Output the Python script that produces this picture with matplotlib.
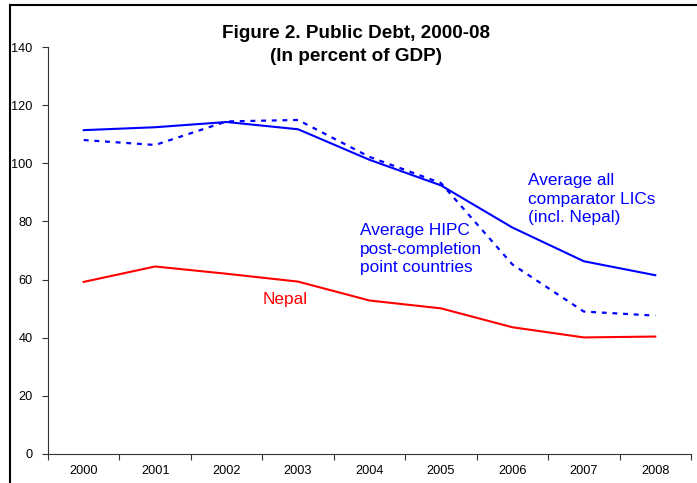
import matplotlib.pyplot as plt
from matplotlib.patches import Rectangle

plt.rcParams["font.family"] = ["Liberation Sans", "DejaVu Sans"]

years = ["2000", "2001", "2002", "2003", "2004", "2005", "2006", "2007", "2008"]
all_lics = [111.4, 112.4, 114.2, 111.7, 101.2, 92.4, 77.9, 66.3, 61.5]
hipc_post = [108.0, 106.3, 114.4, 114.9, 102.2, 93.2, 65.2, 49.0, 47.6]
nepal = [59.2, 64.5, 62.0, 59.3, 52.8, 50.1, 43.6, 40.1, 40.4]

W, H = 697, 483
fig = plt.figure(figsize=(W / 100, H / 100), dpi=100)
ax = fig.add_axes([48 / W, 1 - 454 / H, (691 - 48) / W, (454 - 47) / H])

x = list(range(len(years)))
ax.plot(x, all_lics, color="#0000FF", lw=1.5, solid_joinstyle="miter")
ax.plot(x, hipc_post, color="#0000FF", lw=1.6, linestyle=(0, (2.2, 2.6)))
ax.plot(x, nepal, color="#FF0000", lw=1.5)

ax.set_xlim(-0.5, 8.5)
ax.set_ylim(0, 140)
ax.set_yticks(range(0, 141, 20))
ax.set_xticks([i - 0.5 for i in range(len(years) + 1)])
ax.set_xticklabels([])
ax.set_xticks(x, minor=True)
ax.set_xticklabels(years, minor=True)
ax.tick_params(axis="x", which="minor", length=0, pad=8, labelsize=9.2)
ax.tick_params(axis="x", which="major", length=4, width=0.8, color="#333333")
ax.tick_params(axis="y", length=4, width=0.8, color="#333333", labelsize=9.2, pad=7)
for s in ["top", "right"]:
    ax.spines[s].set_visible(False)
for s in ["left", "bottom"]:
    ax.spines[s].set_color("#333333")
    ax.spines[s].set_linewidth(0.8)

ax.text(6.22, 87.7, "Average all\ncomparator LICs\n(incl. Nepal)", color="#0000FF",
        fontsize=12.4, ha="left", va="center", linespacing=1.3)
ax.text(3.87, 70.5, "Average HIPC\npost-completion\npoint countries", color="#0000FF",
        fontsize=12.4, ha="left", va="center", linespacing=1.3)
ax.text(2.82, 53, "Nepal", color="#FF0000", fontsize=12.4, ha="center", va="center")

fig.text(356 / W, 1 - 45 / H, "Figure 2. Public Debt, 2000-08\n(In percent of GDP)",
         ha="center", va="center", fontsize=13.6, fontweight="bold", linespacing=1.47)

fig.patches.append(Rectangle((10 / W, -0.1), 1.2, 1.1 - 5 / H, transform=fig.transFigure,
                             fill=False, edgecolor="black", lw=1.5, clip_on=False))

fig.savefig("out.png", dpi=100)
